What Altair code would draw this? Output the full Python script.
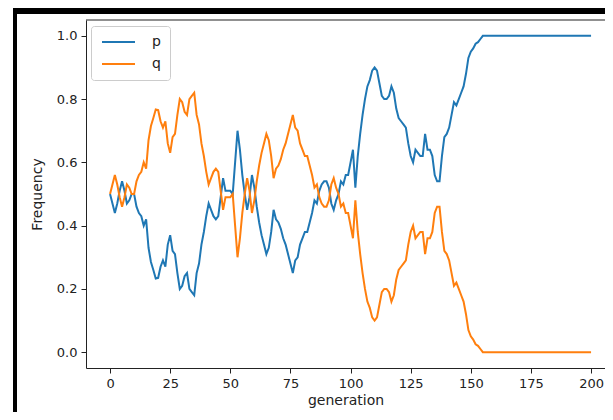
import altair as alt
import pandas as pd

# ---- data ----
generation = list(range(0, 201))
p = [
    0.50, 0.47, 0.44, 0.47, 0.51, 0.54, 0.51, 0.47, 0.48, 0.50,
    0.50, 0.46, 0.44, 0.43, 0.40, 0.42, 0.33, 0.285, 0.26, 0.233,
    0.235, 0.27, 0.29, 0.27, 0.34, 0.37, 0.32, 0.31, 0.25, 0.20,
    0.21, 0.24, 0.25, 0.20, 0.19, 0.18, 0.25, 0.28, 0.34, 0.38,
    0.43, 0.47, 0.45, 0.43, 0.42, 0.43, 0.49, 0.55, 0.51, 0.51,
    0.51, 0.50, 0.60, 0.70, 0.64, 0.56, 0.50, 0.45, 0.49, 0.56,
    0.52, 0.46, 0.41, 0.37, 0.34, 0.31, 0.33, 0.38, 0.45, 0.42,
    0.41, 0.39, 0.36, 0.34, 0.31, 0.28, 0.25, 0.29, 0.30, 0.34,
    0.36, 0.38, 0.38, 0.41, 0.44, 0.48, 0.47, 0.51, 0.53, 0.54,
    0.54, 0.52, 0.47, 0.45, 0.48, 0.50, 0.54, 0.53, 0.56, 0.56,
    0.60, 0.64, 0.52, 0.62, 0.69, 0.75, 0.80, 0.84, 0.86, 0.89,
    0.90, 0.89, 0.85, 0.81, 0.80, 0.80, 0.81, 0.84, 0.82, 0.77,
    0.74, 0.73, 0.72, 0.71, 0.66, 0.62, 0.60, 0.64, 0.63, 0.62,
    0.62, 0.69, 0.64, 0.64, 0.62, 0.56, 0.54, 0.54, 0.62, 0.68,
    0.69, 0.71, 0.75, 0.79, 0.78, 0.80, 0.82, 0.84, 0.88, 0.93,
    0.95, 0.96, 0.975, 0.98, 0.99, 1.0, 1.0, 1.0, 1.0, 1.0,
    1.0, 1.0, 1.0, 1.0, 1.0, 1.0, 1.0, 1.0, 1.0, 1.0,
    1.0, 1.0, 1.0, 1.0, 1.0, 1.0, 1.0, 1.0, 1.0, 1.0,
    1.0, 1.0, 1.0, 1.0, 1.0, 1.0, 1.0, 1.0, 1.0, 1.0,
    1.0, 1.0, 1.0, 1.0, 1.0, 1.0, 1.0, 1.0, 1.0, 1.0,
    1.0,
]
q = [round(1 - v, 3) for v in p]  # q is the complement of p

series_names = ["p", "q"]
series_colors = ["#1f77b4", "#ff7f0e"]
x_ticks = [0, 25, 50, 75, 100, 125, 150, 175, 200]
y_ticks = [0.0, 0.2, 0.4, 0.6, 0.8, 1.0]

df = pd.DataFrame({
    "generation": generation + generation,
    "Frequency": p + q,
    "series": ["p"] * len(p) + ["q"] * len(q),
})

# whole svg must stay within 597 x 404 so the page does not overflow
PAD_L, PAD_T, PAD_B = 78, 12, 44
W, H = 519, 348
FONT = "DejaVu Sans"
INK = "#222222"

lines = alt.Chart(df).mark_line(strokeWidth=2, clip=True).encode(
    x=alt.X(
        "generation:Q",
        scale=alt.Scale(domain=[-10, 205.8], nice=False, zero=False),
        axis=alt.Axis(values=x_ticks, title="generation", titlePadding=3),
    ),
    y=alt.Y(
        "Frequency:Q",
        scale=alt.Scale(domain=[-0.05, 1.05], nice=False, zero=False),
        axis=alt.Axis(values=y_ticks, format=".1f", title="Frequency", titlePadding=12),
    ),
    color=alt.Color(
        "series:N",
        scale=alt.Scale(domain=series_names, range=series_colors),
        legend=alt.Legend(
            title=None,
            orient="none",
            legendX=5,
            legendY=6,
            padding=9,
            fillColor="white",
            strokeColor="#cccccc",
            cornerRadius=3,
            symbolType="M-1,0H5.6",
            symbolSize=100,
            symbolStrokeWidth=2,
            labelFont=FONT,
            labelFontSize=14,
            labelColor=INK,
            labelOffset=38,
            rowPadding=8,
        ),
    ),
)

one = alt.Data(values=[{}])

top_frame = alt.Chart(one).mark_rule(color=INK, strokeWidth=1).encode(
    x=alt.value(0), x2=alt.value(W), y=alt.value(0)
)

# dark screenshot border seen along the top and left of the reference
border_top = alt.Chart(one).mark_rect(color="black").encode(
    x=alt.value(-73), x2=alt.value(W), y=alt.value(-12), y2=alt.value(-6)
)
border_left = alt.Chart(one).mark_rect(color="black").encode(
    x=alt.value(-73), x2=alt.value(-69), y=alt.value(-12), y2=alt.value(H + PAD_B)
)

chart = (
    alt.layer(lines, top_frame, border_top, border_left)
    .properties(
        width=W,
        height=H,
        autosize=alt.AutoSizeParams(type="none"),
        padding={"left": PAD_L, "top": PAD_T, "right": 0, "bottom": PAD_B},
    )
    .configure_view(stroke=None)
    .configure_axis(
        grid=False,
        domainColor=INK,
        domainWidth=1,
        tickColor=INK,
        tickWidth=1,
        tickSize=5,
        labelFont=FONT,
        labelFontSize=13,
        labelColor=INK,
        labelPadding=4,
        titleFont=FONT,
        titleFontSize=14,
        titleFontWeight="normal",
        titleColor=INK,
    )
)

chart.save("out.html", embed_options={"renderer": "svg", "actions": False})
